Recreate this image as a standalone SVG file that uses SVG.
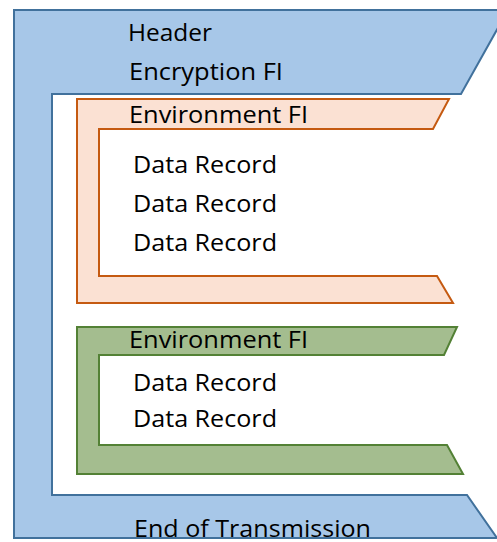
<svg xmlns="http://www.w3.org/2000/svg" width="497" height="542" viewBox="0 0 497 542">
<style>
  .t { font-family: "Open Sans", "Noto Sans", "Liberation Sans", sans-serif; font-size: 23px; fill: #000; }
  .blue { fill: #a7c7e8; stroke: #41719c; stroke-width: 2; stroke-linejoin: miter; }
  .orange { fill: #fbe1d3; stroke: #c55a11; stroke-width: 2; }
  .green { fill: #a4bd8f; stroke: #538135; stroke-width: 2; }
</style>
<rect width="497" height="542" fill="#ffffff"/>
<g id="transmission">
  <polygon class="blue" points="14,10 508,10 461,94 52,94 52,495 467,495 497,538 14,538"/>
  <text class="t" x="128" y="41" textLength="84" lengthAdjust="spacingAndGlyphs">Header</text>
  <text class="t" x="129" y="80" textLength="154" lengthAdjust="spacingAndGlyphs">Encryption FI</text>
  <text class="t" x="134" y="537" textLength="237" lengthAdjust="spacingAndGlyphs">End of Transmission</text>
</g>
<g id="environment1">
  <polygon class="orange" points="77,99 449,99 433,129 99,129 99,276 437,276 453,303 77,303"/>
  <text class="t" x="129" y="123" textLength="179" lengthAdjust="spacingAndGlyphs">Environment FI</text>
  <text class="t" x="133" y="173" textLength="144" lengthAdjust="spacingAndGlyphs">Data Record</text>
  <text class="t" x="133" y="212" textLength="144" lengthAdjust="spacingAndGlyphs">Data Record</text>
  <text class="t" x="133" y="251" textLength="144" lengthAdjust="spacingAndGlyphs">Data Record</text>
</g>
<g id="environment2">
  <polygon class="green" points="77,327 457,327 444,355 99,355 99,445 447,445 463,474 77,474"/>
  <text class="t" x="129" y="348" textLength="179" lengthAdjust="spacingAndGlyphs">Environment FI</text>
  <text class="t" x="133" y="391" textLength="144" lengthAdjust="spacingAndGlyphs">Data Record</text>
  <text class="t" x="133" y="427" textLength="144" lengthAdjust="spacingAndGlyphs">Data Record</text>
</g>
<g id="connectors"></g>
</svg>
